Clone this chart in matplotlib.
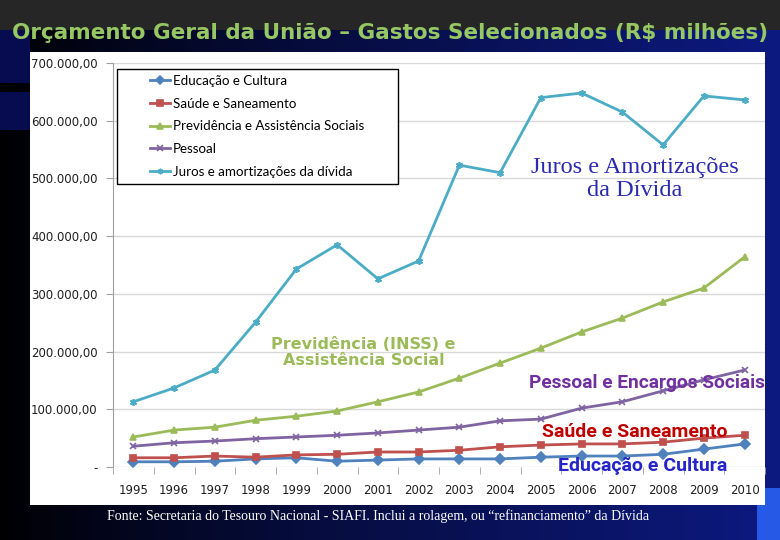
import numpy as np
import matplotlib.pyplot as plt
from matplotlib.patches import Rectangle
from matplotlib.ticker import FixedLocator, FuncFormatter

# data (R$ milhões)
anos = [str(a) for a in range(1995, 2011)]
educacao = [9000, 9000, 10000, 14000, 16000, 10000, 12000, 14000,
            14000, 14000, 17000, 19000, 19000, 22000, 31000, 40000]
saude = [16000, 16000, 19000, 17000, 21000, 22000, 26000, 26000,
         29000, 35000, 38000, 40000, 40000, 43000, 50000, 55000]
previdencia = [52000, 64000, 69000, 81000, 88000, 97000, 113000, 130000,
               154000, 180000, 206000, 234000, 258000, 286000, 310000, 364000]
pessoal = [36000, 42000, 45000, 49000, 52000, 55000, 59000, 64000,
           69000, 80000, 83000, 102000, 113000, 132000, 151000, 168000]
juros = [113000, 137000, 168000, 251000, 343000, 385000, 326000, 357000,
         523000, 510000, 640000, 648000, 615000, 558000, 643000, 636000]

series = [
    ("Educação e Cultura", educacao, "#4f81bd", "D"),
    ("Saúde e Saneamento", saude, "#c0504d", "s"),
    ("Previdência e Assistência Sociais", previdencia, "#9bbb59", "^"),
    ("Pessoal", pessoal, "#8064a2", "x"),
    ("Juros e amortizações da dívida", juros, "#4bacc6", (6, 2, 0)),
]

W, H = 780, 540
fig = plt.figure(figsize=(W / 100, H / 100), dpi=100)

# slide background: dark top band, black -> navy gradient below
bg = fig.add_axes([0, 0, 1, 1], zorder=-2)
img = np.zeros((H, W, 3))
xs = np.linspace(0, 1, W) ** 0.8
navy = np.array([0.05, 0.10, 0.50])
img[:, :, :] = xs[None, :, None] * navy[None, None, :]
img[:30] = 0.15
img[30:83, :30] = [0.03, 0.05, 0.32]
img[92:130, :30] = [0.03, 0.05, 0.32]
img[488:, 757:] = [0.15, 0.35, 0.90]
bg.imshow(img, extent=[0, W, H, 0], aspect="auto", interpolation="bilinear")
bg.set_xlim(0, W)
bg.set_ylim(H, 0)
bg.axis("off")
bg.add_patch(Rectangle((30, 52), 735, 453, facecolor="white", edgecolor="none"))

fig.text(0.5, 1 - 33 / H, "Orçamento Geral da União – Gastos Selecionados (R$ milhões)",
         ha="center", va="center", color="#95c763", fontsize=15.5, fontweight="bold",
         family="DejaVu Sans")
fig.text(0.485, 1 - 516 / H,
         "Fonte: Secretaria do Tesouro Nacional - SIAFI. Inclui a rolagem, ou “refinanciamento” da Dívida",
         ha="center", va="center", color="white", fontsize=10, family="Liberation Serif")

ax = fig.add_axes([113 / W, 73 / H, 652 / W, 404 / H])
ax.set_facecolor("white")
x = np.arange(len(anos))
for nome, vals, cor, mk in series:
    ax.plot(x, vals, color=cor, lw=2, marker=mk, ms=5, mew=1.2, label=nome, zorder=3)

ax.set_xlim(-0.5, len(anos) - 0.5)
ax.set_ylim(0, 700000)
ax.yaxis.set_major_locator(FixedLocator(np.arange(0, 700001, 100000)))
ax.yaxis.set_major_formatter(FuncFormatter(
    lambda v, p: "-" if v == 0 else f"{v:,.2f}".replace(",", "X").replace(".", ",").replace("X", ".")))
ax.grid(axis="y", color="#d9d9d9", lw=1)
ax.set_axisbelow(True)
for s in ["top", "right", "bottom"]:
    ax.spines[s].set_visible(False)
ax.spines["left"].set_color("#a0a0a0")
ax.set_xticks(x)
ax.set_xticklabels(anos)
ax.set_xticks(np.arange(-0.5, len(anos)), minor=True)
ax.tick_params(axis="x", which="major", length=0, pad=12, labelsize=8.5)
ax.tick_params(axis="x", which="minor", length=5, color="#a0a0a0")
ax.tick_params(axis="y", length=5, color="#a0a0a0", labelsize=8.5, pad=6)
for t in ax.get_xticklabels() + ax.get_yticklabels():
    t.set_family("Liberation Sans Narrow")
    t.set_color("#202020")

# legend box (wider than its content, as in the original)
ax.add_patch(Rectangle((4 / 652, (467 - 184) / 404), 281 / 652, 115 / 404,
                       transform=ax.transAxes, facecolor="white", edgecolor="black",
                       lw=1, zorder=4))
leg = ax.legend(loc="upper left", bbox_to_anchor=(37 / 652, (467 - 75) / 404), frameon=False,
                prop={"family": "Lato", "size": 9.6}, handlelength=1.5, handletextpad=0.2,
                borderpad=0, borderaxespad=0, labelspacing=0.8, markerscale=0.8)
leg.set_zorder(5)

# series annotations
ax.text(12.3, 499000, "Juros e Amortizações\nda Dívida", ha="center", va="center",
        color="#2b2bb0", fontsize=17.5, family="Liberation Serif", linespacing=1.1)
ax.text(5.65, 199000, "Previdência (INSS) e\nAssistência Social", ha="center", va="center",
        color="#9bbb59", fontsize=11.5, fontweight="bold", family="DejaVu Sans", linespacing=1.1)
ax.text(12.6, 146000, "Pessoal e Encargos Sociais", ha="center", va="center",
        color="#7030a0", fontsize=13.8, fontweight="bold", family="Roboto")
ax.text(12.3, 61000, "Saúde e Saneamento", ha="center", va="center",
        color="#c00000", fontsize=14, fontweight="bold", family="Roboto")
ax.text(12.5, 2000, "Educação e Cultura", ha="center", va="center",
        color="#2424c8", fontsize=14, fontweight="bold", family="Roboto")

fig.savefig("out.png", dpi=100)
